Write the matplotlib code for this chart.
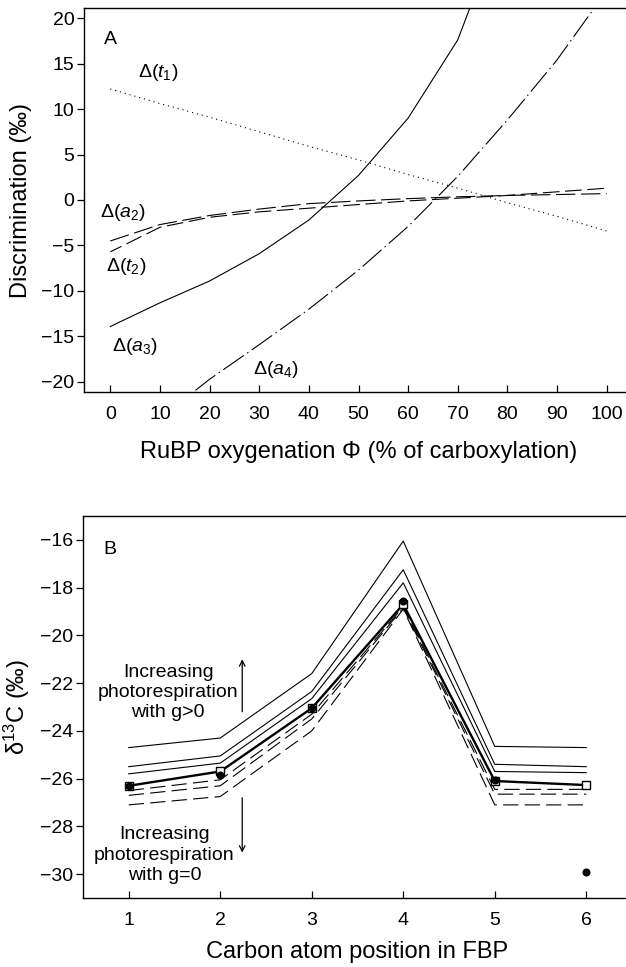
import matplotlib
matplotlib.use("Agg")
import matplotlib.pyplot as plt
import numpy as np

plt.rcParams['font.family'] = ['Liberation Sans', 'DejaVu Sans']
plt.rcParams['mathtext.fontset'] = 'custom'
plt.rcParams['mathtext.rm'] = 'Liberation Sans'
plt.rcParams['mathtext.it'] = 'Liberation Sans:italic'
plt.rcParams['mathtext.bf'] = 'Liberation Sans:bold'
plt.rcParams['lines.scale_dashes'] = False

# ---------------- Panel A data ----------------
phi = [0, 10, 20, 30, 40, 50, 60, 70, 80, 90, 100]
d_t1 = [12.2, 10.6, 9.1, 7.5, 5.9, 4.4, 2.8, 1.3, -0.3, -1.8, -3.4]
d_a2 = [-4.5, -2.7, -1.7, -1.0, -0.4, -0.1, 0.15, 0.35, 0.5, 0.6, 0.7]
d_t2 = [-5.7, -3.0, -1.9, -1.3, -0.9, -0.5, -0.1, 0.2, 0.5, 0.9, 1.3]
d_a3 = [-13.9, -11.3, -8.9, -5.9, -2.2, 2.7, 9.0, 17.6, 32.0, 50.0, 70.0]
d_a4 = [-27.5, -24.0, -19.7, -15.9, -12.0, -7.7, -2.9, 2.6, 8.8, 15.4, 23.0]
xticks_a = [0, 10, 20, 30, 40, 50, 60, 70, 80, 90, 100]
yticks_a = [-20, -15, -10, -5, 0, 5, 10, 15, 20]

# ---------------- Panel B data ----------------
pos = [1, 2, 3, 4, 5, 6]
solid1 = [-24.7, -24.3, -21.6, -16.05, -24.65, -24.7]
solid2 = [-25.5, -25.05, -22.35, -17.25, -25.4, -25.5]
solid3 = [-25.8, -25.35, -22.65, -17.8, -25.7, -25.75]
model = [-26.3, -25.7, -23.05, -18.7, -26.1, -26.27]
dash1 = [-26.5, -26.05, -23.3, -18.8, -26.45, -26.45]
dash2 = [-26.7, -26.3, -23.5, -18.85, -26.65, -26.65]
dash3 = [-27.1, -26.75, -24.0, -18.9, -27.1, -27.1]
measured = [-26.3, -25.85, -23.05, -18.55, -26.05, -29.9]
yticks_b = [-30, -28, -26, -24, -22, -20, -18, -16]

W, H = 626, 967
fig = plt.figure(figsize=(W / 100, H / 100), dpi=100)

FS = 14
LFS = 17
lw = 0.8

def style(ax):
    for s in ax.spines.values():
        s.set_linewidth(1.0)
    ax.tick_params(axis='y', direction='out', length=5, width=0.9, pad=2, labelsize=FS)
    ax.tick_params(axis='x', direction='in', length=5, width=0.9, pad=10, labelsize=FS)

# ---------------- Panel A ----------------
axA = fig.add_axes([84 / W, (H - 392) / H, (633 - 84) / W, (392 - 8) / H])
axA.plot(phi, d_t1, color='black', lw=lw, linestyle=(0, (0.8, 2.8)))
axA.plot(phi, d_a2, color='black', lw=lw, linestyle=(0, (14, 4)))
axA.plot(phi, d_t2, color='black', lw=lw, linestyle=(3, (12, 4)))
axA.plot(phi, d_a3, color='black', lw=lw, linestyle='-')
axA.plot(phi, d_a4, color='black', lw=lw, linestyle=(0, (18, 3, 1, 3)))
axA.set_xlim(-5.3, 105.3)
axA.set_ylim(-21.1, 21.1)
axA.set_xticks(xticks_a)
axA.set_yticks(yticks_a)
axA.set_yticklabels([str(v).replace('-', '\u2212') for v in yticks_a])
style(axA)
axA.set_xlabel('RuBP oxygenation \u03a6 (% of carboxylation)', fontsize=LFS, labelpad=13)
axA.set_ylabel('Discrimination (\u2030)', fontsize=LFS)
axA.yaxis.set_label_coords(-0.095, 0.5)

lab_fs = 14
axA.text(0, 17.6, 'A', fontsize=lab_fs, ha='center', va='center')
axA.text(9.7, 13.96, r'$\Delta(t_1)$', fontsize=lab_fs, ha='center', va='center')
axA.text(2.6, -1.4, r'$\Delta(a_2)$', fontsize=lab_fs, ha='center', va='center')
axA.text(3.2, -7.3, r'$\Delta(t_2)$', fontsize=lab_fs, ha='center', va='center')
axA.text(4.9, -16.1, r'$\Delta(a_3)$', fontsize=lab_fs, ha='center', va='center')
axA.text(33.4, -18.6, r'$\Delta(a_4)$', fontsize=lab_fs, ha='center', va='center')

# ---------------- Panel B ----------------
axB = fig.add_axes([83 / W, (H - 898) / H, (632 - 83) / W, (898 - 516) / H])
for s in (solid1, solid2, solid3):
    axB.plot(pos, s, color='black', lw=lw, linestyle='-')
for d in (dash1, dash2, dash3):
    axB.plot(pos, d, color='black', lw=lw, linestyle=(0, (11, 4.5)))
axB.plot(pos, model, color='black', lw=1.7, linestyle='-', marker='s', ms=5.5,
         mfc='white', mec='black', mew=1.0)
axB.plot(pos, measured, linestyle='none', marker='o', ms=4.8, color='black')
axB.set_xlim(0.5, 6.5)
axB.set_ylim(-31, -15)
axB.set_xticks(pos)
axB.set_yticks(yticks_b)
axB.set_yticklabels([str(v).replace('-', '\u2212') for v in yticks_b])
style(axB)
axB.set_xlabel('Carbon atom position in FBP', fontsize=LFS, labelpad=9)
axB.set_ylabel('\u03b4$^{13}$C (\u2030)', fontsize=LFS)
axB.yaxis.set_label_coords(-0.093, 0.5)

axB.text(0.79, -16.4, 'B', fontsize=lab_fs, ha='center', va='center')
axB.text(1.43, -22.4, 'Increasing\nphotorespiration\nwith g>0', fontsize=14,
         ha='center', va='center', linespacing=1.24)
axB.text(1.39, -29.2, 'Increasing\nphotorespiration\nwith g=0', fontsize=14,
         ha='center', va='center', linespacing=1.24)
axB.annotate('', xy=(2.24, -21.0), xytext=(2.24, -23.2),
             arrowprops=dict(arrowstyle='->', lw=0.9, color='black',
                             shrinkA=0, shrinkB=0, mutation_scale=10))
axB.annotate('', xy=(2.24, -29.1), xytext=(2.24, -26.8),
             arrowprops=dict(arrowstyle='->', lw=0.9, color='black',
                             shrinkA=0, shrinkB=0, mutation_scale=10))

fig.savefig('out.png', dpi=100)
